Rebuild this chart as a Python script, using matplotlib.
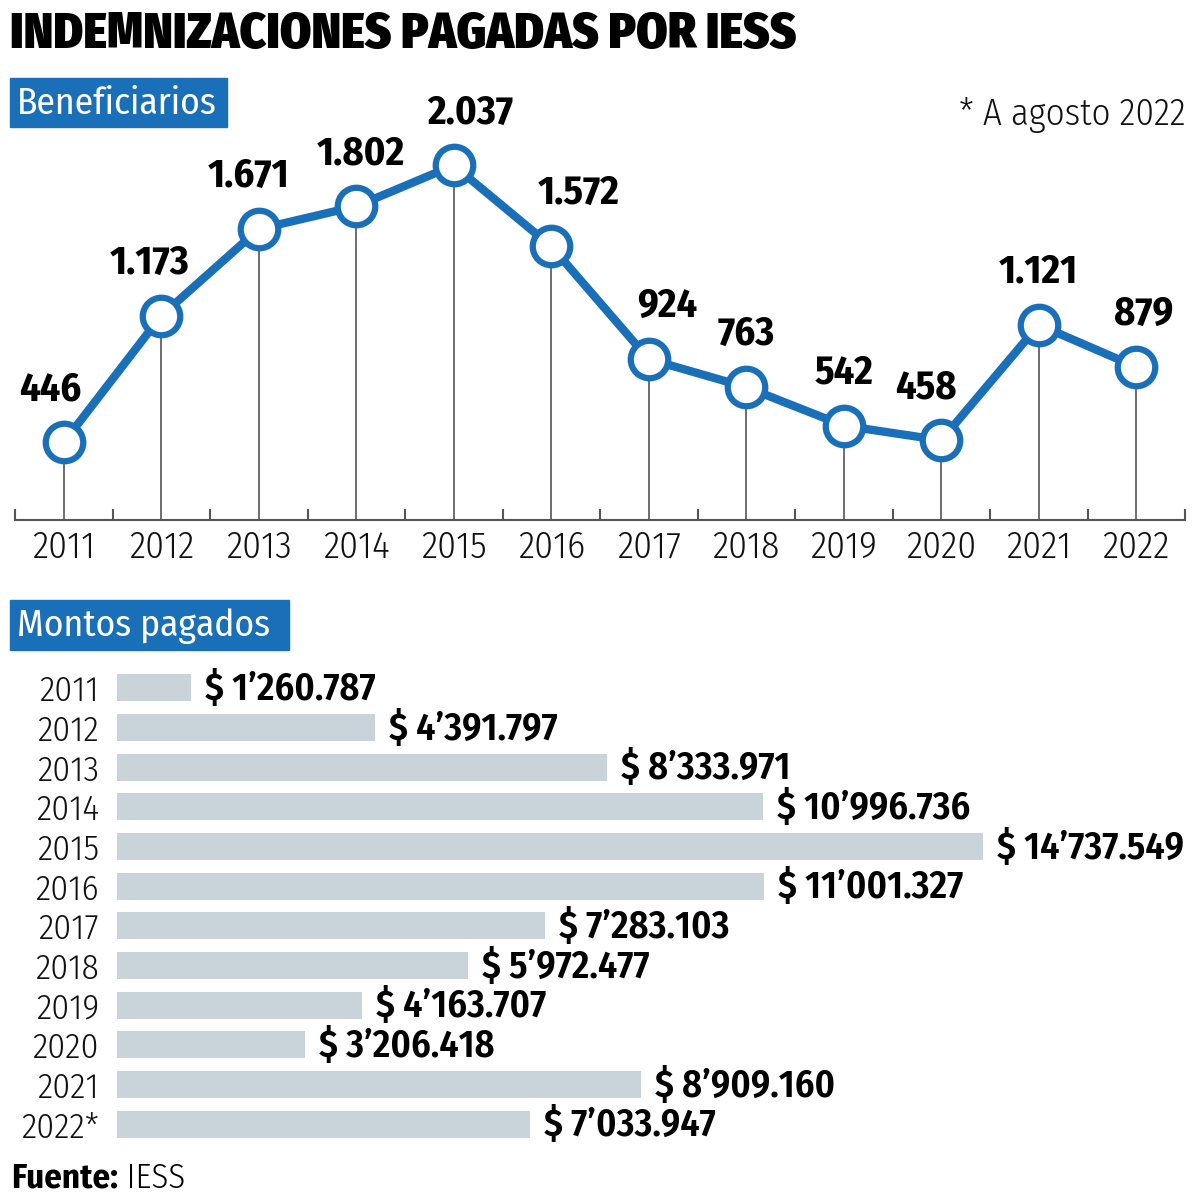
import numpy as np
import matplotlib.pyplot as plt
import matplotlib.patches as patches

# Data
years = ['2011', '2012', '2013', '2014', '2015', '2016',
         '2017', '2018', '2019', '2020', '2021', '2022']
beneficiarios = [446, 1173, 1671, 1802, 2037, 1572, 924, 763, 542, 458, 1121, 879]
ben_labels = ['446', '1.173', '1.671', '1.802', '2.037', '1.572',
              '924', '763', '542', '458', '1.121', '879']
bar_years = ['2011', '2012', '2013', '2014', '2015', '2016',
             '2017', '2018', '2019', '2020', '2021', '2022*']
montos = [1260787, 4391797, 8333971, 10996736, 14737549, 11001327,
          7283103, 5972477, 4163707, 3206418, 8909160, 7033947]

# small horizontal nudges of the value labels (pixels)
label_dx = [-13, -12, -10, 5, 16, 27, 18, 0, 0, -15, 0, 7]

BLUE = '#1a70b8'
BAR = '#c9d3da'
GRAY = '#555555'
COND = ['Fira Sans Condensed', 'Roboto Condensed', 'DejaVu Sans']

W = H = 1200.0
fig = plt.figure(figsize=(12, 12), dpi=100)


def fx(px):
    return px / W


def fy(py):
    return 1 - py / H


def money(v):
    m = v // 1000000
    rest = v % 1000000
    return '$ {}’{:03d}.{:03d}'.format(m, rest // 1000, rest % 1000)


# Title and section headers
fig.text(fx(10), fy(34), 'INDEMNIZACIONES PAGADAS POR IESS', family=COND,
         fontsize=36, fontweight=900, va='center', ha='left')

for (x0, y0, x1, y1, txt) in [(10, 78, 227, 127, 'Beneficiarios'),
                              (10, 600, 289, 650, 'Montos pagados')]:
    fig.patches.append(patches.Rectangle((fx(x0), fy(y1)), fx(x1 - x0), (y1 - y0) / H,
                                         transform=fig.transFigure, color=BLUE, zorder=0))
    fig.text(fx(x0 + 7), fy((y0 + y1) / 2 + 1), txt, family=COND, fontsize=27,
             color='white', va='center', ha='left')

fig.text(fx(1186), fy(115), '* A agosto 2022', family=COND, fontsize=26.5,
         fontweight=300, va='center', ha='right', color='#111111')

# Line chart: beneficiarios
ax = fig.add_axes([fx(15), fy(520), fx(1170), 430 / H])
x = np.arange(len(years))
ax.vlines(x, 0, beneficiarios, color=GRAY, lw=1.2, zorder=1)
ax.plot(x, beneficiarios, color=BLUE, lw=6, zorder=2,
        marker='o', ms=27, mfc='white', mec=BLUE, mew=4.5)
for i, v in enumerate(beneficiarios):
    ax.annotate(ben_labels[i], (i, v), xytext=(label_dx[i] * 0.72, 38),
                textcoords='offset points', ha='center', va='center',
                family=COND, fontsize=29, fontweight='bold')
ax.set_xlim(-0.5, 11.5)
ax.set_ylim(0, 2470)
ax.set_xticks(x)
ax.set_xticklabels(years, family=COND, fontsize=27, fontweight=300, color='#111111')
ax.set_xticks(np.arange(-0.5, 12, 1), minor=True)
ax.tick_params(axis='x', which='major', length=0, pad=7)
ax.tick_params(axis='x', which='minor', length=8, width=1.5, color=GRAY, direction='in')
ax.set_yticks([])
for s in ['top', 'right', 'left']:
    ax.spines[s].set_visible(False)
ax.spines['bottom'].set_color(GRAY)
ax.spines['bottom'].set_linewidth(1.5)
ax.patch.set_alpha(0)

# Bar chart: montos pagados
ax2 = fig.add_axes([fx(117), fy(1144), fx(1185 - 117), 476 / H])
y = np.arange(len(bar_years))
ax2.barh(y, montos, height=0.68, color=BAR)
for i, v in enumerate(montos):
    ax2.annotate(money(v), (v, i), xytext=(10, -1), textcoords='offset points',
                 ha='left', va='center', family=COND, fontsize=27.5, fontweight=600)
ax2.set_xlim(0, 18.17e6)
ax2.set_ylim(11.5, -0.5)
ax2.set_yticks(y)
ax2.set_yticklabels(bar_years, family=COND, fontsize=25.5, fontweight=300, color='#111111')
ax2.tick_params(axis='y', length=0, pad=13)
ax2.set_xticks([])
for s in ax2.spines.values():
    s.set_visible(False)
ax2.patch.set_alpha(0)

# Source: bold "Fuente:" followed by light "IESS"
src = fig.text(fx(11), fy(1178), 'Fuente:', family=COND, fontsize=25, fontweight='bold',
               va='center', ha='left')
plt.annotate(' IESS', xy=(1, 0), xycoords=src, va='bottom', ha='left',
             family=COND, fontsize=25, fontweight=300, annotation_clip=False)

fig.savefig('out.png', dpi=100, facecolor='white')
